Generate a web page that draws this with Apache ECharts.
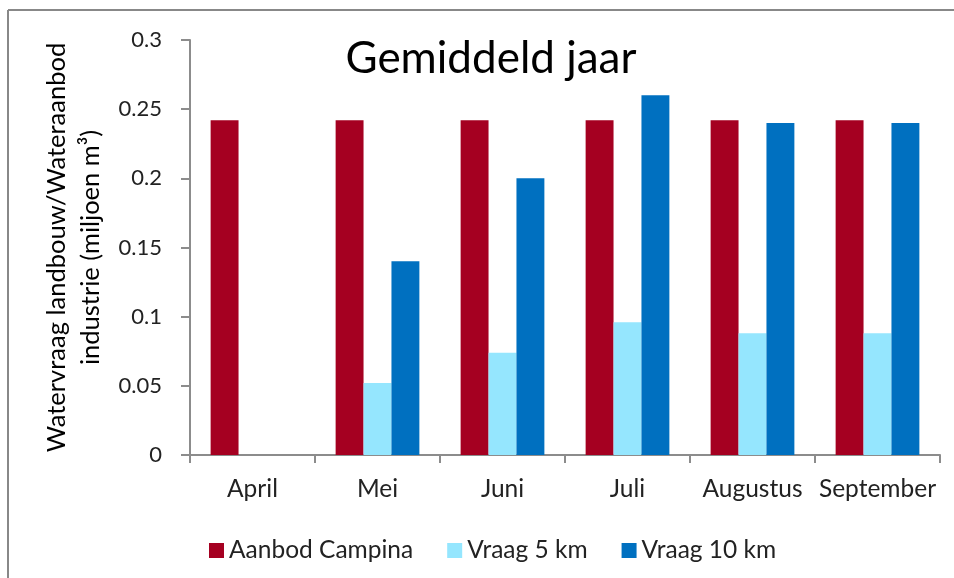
<!DOCTYPE html>
<html>
<head>
<meta charset="utf-8">
<script src="https://cdn.jsdelivr.net/npm/echarts@6/dist/echarts.min.js"></script>
<style>
  html, body { margin: 0; padding: 0; background: #fff; }
  #chart { width: 954px; height: 578px; }
</style>
</head>
<body>
<div id="chart"></div>
<script>
// Monthly water supply vs. demand (million m³)
const months = ['April', 'Mei', 'Juni', 'Juli', 'Augustus', 'September'];
const aanbodCampina = [0.242, 0.242, 0.242, 0.242, 0.242, 0.242];
const vraag5km = [0, 0.052, 0.074, 0.096, 0.088, 0.088];
const vraag10km = [0, 0.14, 0.2, 0.26, 0.24, 0.24];
const yTicks = [0, 0.05, 0.1, 0.15, 0.2, 0.25, 0.3];

const font = 'Lato, "Open Sans", sans-serif';
const axisGrey = '#8c8c8c';

const chart = echarts.init(document.getElementById('chart'), null, { renderer: 'canvas' });

chart.setOption({
  animation: false,
  backgroundColor: '#ffffff',
  title: {
    text: 'Gemiddeld jaar',
    left: 486,
    top: 32,
    textAlign: 'center',
    textStyle: { fontFamily: font, fontSize: 44, fontWeight: 'normal', color: '#000' }
  },
  grid: { left: 190, right: 14, top: 40, bottom: 123, containLabel: false, outerBoundsMode: 'none' },
  legend: {
    data: ['Aanbod Campina', 'Vraag 5 km', 'Vraag 10 km'],
    left: 204,
    top: 533,
    itemWidth: 15,
    itemHeight: 15,
    itemGap: 34,
    icon: 'rect',
    textStyle: { fontFamily: font, fontSize: 24.5, color: '#222' }
  },
  xAxis: {
    type: 'category',
    data: months,
    axisLine: { lineStyle: { color: axisGrey, width: 2 } },
    axisTick: { show: true, length: 8, lineStyle: { color: axisGrey, width: 2 }, alignWithLabel: false },
    axisLabel: { fontFamily: font, fontSize: 24.5, color: '#222', margin: 22, interval: 0 }
  },
  yAxis: {
    type: 'value',
    min: yTicks[0],
    max: yTicks[yTicks.length - 1],
    interval: 0.05,
    name: 'Watervraag landbouw/Wateraanbod\nindustrie (miljoen m³)',
    nameLocation: 'middle',
    nameGap: 80,
    nameRotate: 90,
    nameTextStyle: { fontFamily: font, fontSize: 25.5, color: '#000', lineHeight: 34 },
    axisLine: { show: true, lineStyle: { color: axisGrey, width: 2 } },
    axisTick: { show: true, inside: false, length: 9, lineStyle: { color: axisGrey, width: 2 } },
    splitLine: { show: false },
    axisLabel: {
      fontFamily: font, fontSize: 22, color: '#222', margin: 28,
      formatter: v => String(+v.toFixed(2))
    }
  },
  series: [
    {
      name: 'Aanbod Campina', type: 'bar', data: aanbodCampina,
      itemStyle: { color: '#a50021' }, barGap: '0%', barCategoryGap: '33%'
    },
    {
      name: 'Vraag 5 km', type: 'bar', data: vraag5km,
      itemStyle: { color: '#95e6fe' }, barGap: '0%', barCategoryGap: '33%'
    },
    {
      name: 'Vraag 10 km', type: 'bar', data: vraag10km,
      itemStyle: { color: '#0070c0' }, barGap: '0%', barCategoryGap: '33%'
    }
  ],
  graphic: [
    { type: 'line', shape: { x1: 8, y1: 10, x2: 954, y2: 10 }, style: { stroke: '#888', lineWidth: 2 } },
    { type: 'line', shape: { x1: 8, y1: 10, x2: 8, y2: 578 }, style: { stroke: '#888', lineWidth: 2 } }
  ]
});
</script>
</body>
</html>
